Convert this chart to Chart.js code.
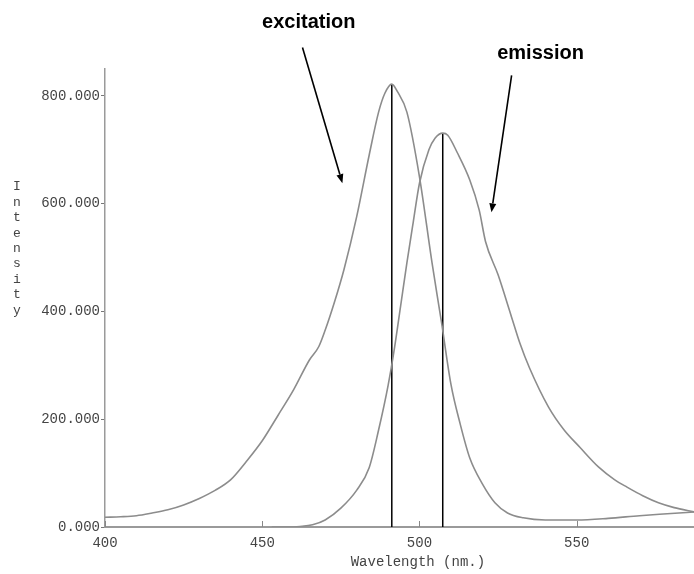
<!DOCTYPE html>
<html>
<head>
<meta charset="utf-8">
<script src="https://cdn.jsdelivr.net/npm/chart.js@4.4.1/dist/chart.umd.min.js"></script>
<style>
  html, body { margin: 0; padding: 0; background: #ffffff; }
  canvas { display: block; }
</style>
</head>
<body>
<canvas id="c" width="694" height="574"></canvas>
<script>
// ---- Data ----
const excitationNm = [400,405,410,415,420,425,430,435,440,445,450,455,460,465,468,470,473,476,480,484,487,489,491.2,493,496,500,504,507,510,513,516,520,524,528,533,540,550,560,570,580,587.3];
const excitationIntensity = [18,19,21,26,32,41,53,68,88,122,160,207,255,310,335,365,418,478,575,690,770,805,822,808,770,650,490,380,265,190,128,80,45,26,17,13,13,16,21,25,28];

const emissionNm = [453,458,462,466,470,475,480,484,487,490,492,494,496,498,500,503,505,507.4,509,512,516,519,521,525,529,532,535,541,546,551,557,562,566,571,576,581,587.3];
const emissionIntensity = [0,0,1,4,13,35,68,110,180,262,330,410,490,565,638,700,722,731,727,695,644,588,530,468,395,340,295,223,180,148,111,88,74,58,45,36,28];

const peakNm = [491.2, 507.4];
const peakIntensity = [822, 731];

const xTickValues = [400, 450, 500, 550];
const yTickValues = [0, 200, 400, 600, 800];

const xAxisTitle = 'Wavelength (nm.)';
const yAxisTitle = 'Intensity';
const annotationLabels = ['excitation', 'emission'];

// ---- Annotation placement (data units) ----
const annotationPlacement = [
  { text: [464.8, 937], from: [462.8, 890], to: [475.5, 638] },
  { text: [538.5, 878], from: [529.3, 838], to: [522.9, 584] }
];

const toXY = (xs, ys) => xs.map((x, i) => ({ x: x, y: ys[i] }));

const curveColor = '#8c8c8c';
const monoFont = "'Liberation Mono', 'DejaVu Sans Mono', monospace";

const decorPlugin = {
  id: 'decor',
  afterDraw(chart) {
    const ctx = chart.ctx;
    const xs = chart.scales.x, ys = chart.scales.y;
    const bottom = chart.chartArea.bottom;
    ctx.save();
    // inside x ticks
    ctx.strokeStyle = '#888';
    ctx.lineWidth = 1;
    xTickValues.forEach(v => {
      const px = Math.round(xs.getPixelForValue(v)) + 0.5;
      ctx.beginPath();
      ctx.moveTo(px, bottom);
      ctx.lineTo(px, bottom - 6);
      ctx.stroke();
    });
    // x axis title
    ctx.fillStyle = '#444';
    ctx.font = '14px ' + monoFont;
    ctx.textAlign = 'center';
    ctx.textBaseline = 'middle';
    ctx.fillText(xAxisTitle, xs.getPixelForValue(499.5), 562);
    // y axis title (stacked letters)
    ctx.font = '13px ' + monoFont;
    const letters = yAxisTitle.split('');
    letters.forEach((ch, i) => {
      ctx.fillText(ch, 17, 187 + i * 15.4);
    });
    // annotations
    ctx.fillStyle = '#000';
    ctx.strokeStyle = '#000';
    ctx.font = "bold 20px 'Liberation Sans', Arial, sans-serif";
    annotationPlacement.forEach((a, i) => {
      ctx.fillText(annotationLabels[i], xs.getPixelForValue(a.text[0]), ys.getPixelForValue(a.text[1]));
      const x1 = xs.getPixelForValue(a.from[0]), y1 = ys.getPixelForValue(a.from[1]);
      const x2 = xs.getPixelForValue(a.to[0]), y2 = ys.getPixelForValue(a.to[1]);
      const ang = Math.atan2(y2 - y1, x2 - x1);
      const headLen = 9, headW = 3.5;
      const bx = x2 - headLen * Math.cos(ang), by = y2 - headLen * Math.sin(ang);
      ctx.lineWidth = 1.6;
      ctx.beginPath();
      ctx.moveTo(x1, y1);
      ctx.lineTo(bx, by);
      ctx.stroke();
      ctx.beginPath();
      ctx.moveTo(x2, y2);
      ctx.lineTo(bx + headW * Math.sin(ang), by - headW * Math.cos(ang));
      ctx.lineTo(bx - headW * Math.sin(ang), by + headW * Math.cos(ang));
      ctx.closePath();
      ctx.fill();
    });
    ctx.restore();
  }
};

new Chart(document.getElementById('c'), {
  type: 'line',
  data: {
    datasets: [
      {
        label: 'excitation',
        data: toXY(excitationNm, excitationIntensity),
        borderColor: curveColor,
        borderWidth: 1.6,
        pointRadius: 0,
        cubicInterpolationMode: 'monotone',
        fill: false
      },
      {
        label: 'emission',
        data: toXY(emissionNm, emissionIntensity),
        borderColor: curveColor,
        borderWidth: 1.6,
        pointRadius: 0,
        cubicInterpolationMode: 'monotone',
        fill: false
      },
      {
        label: 'excitation peak',
        data: [{ x: peakNm[0], y: 0 }, { x: peakNm[0], y: peakIntensity[0] }],
        borderColor: '#000',
        borderWidth: 1.5,
        pointRadius: 0
      },
      {
        label: 'emission peak',
        data: [{ x: peakNm[1], y: 0 }, { x: peakNm[1], y: peakIntensity[1] }],
        borderColor: '#000',
        borderWidth: 1.5,
        pointRadius: 0
      }
    ]
  },
  options: {
    responsive: false,
    animation: false,
    layout: { padding: { top: 69, right: 0, bottom: 0, left: 0 } },
    plugins: { legend: { display: false }, tooltip: { enabled: false } },
    scales: {
      x: {
        type: 'linear',
        min: 400,
        max: 587.3,
        afterBuildTicks: s => { s.ticks = xTickValues.map(v => ({ value: v })); },
        afterFit: s => { s.height = 47; },
        grid: { display: false, drawTicks: false },
        border: { display: true, color: '#9a9a9a', width: 2 },
        ticks: {
          padding: 8,
          maxRotation: 0,
          color: '#444',
          font: { family: monoFont, size: 14 },
          callback: v => String(v)
        }
      },
      y: {
        type: 'linear',
        min: 0,
        max: 850,
        afterBuildTicks: s => { s.ticks = yTickValues.map(v => ({ value: v })); },
        afterFit: s => { s.width = 105; },
        grid: { display: true, drawOnChartArea: false, drawTicks: true, tickLength: 4, color: '#777' },
        border: { display: true, color: '#9a9a9a', width: 1.5 },
        ticks: {
          padding: 1,
          color: '#444',
          font: { family: monoFont, size: 14 },
          callback: v => Number(v).toFixed(3)
        }
      }
    }
  },
  plugins: [decorPlugin]
});
</script>
</body>
</html>
